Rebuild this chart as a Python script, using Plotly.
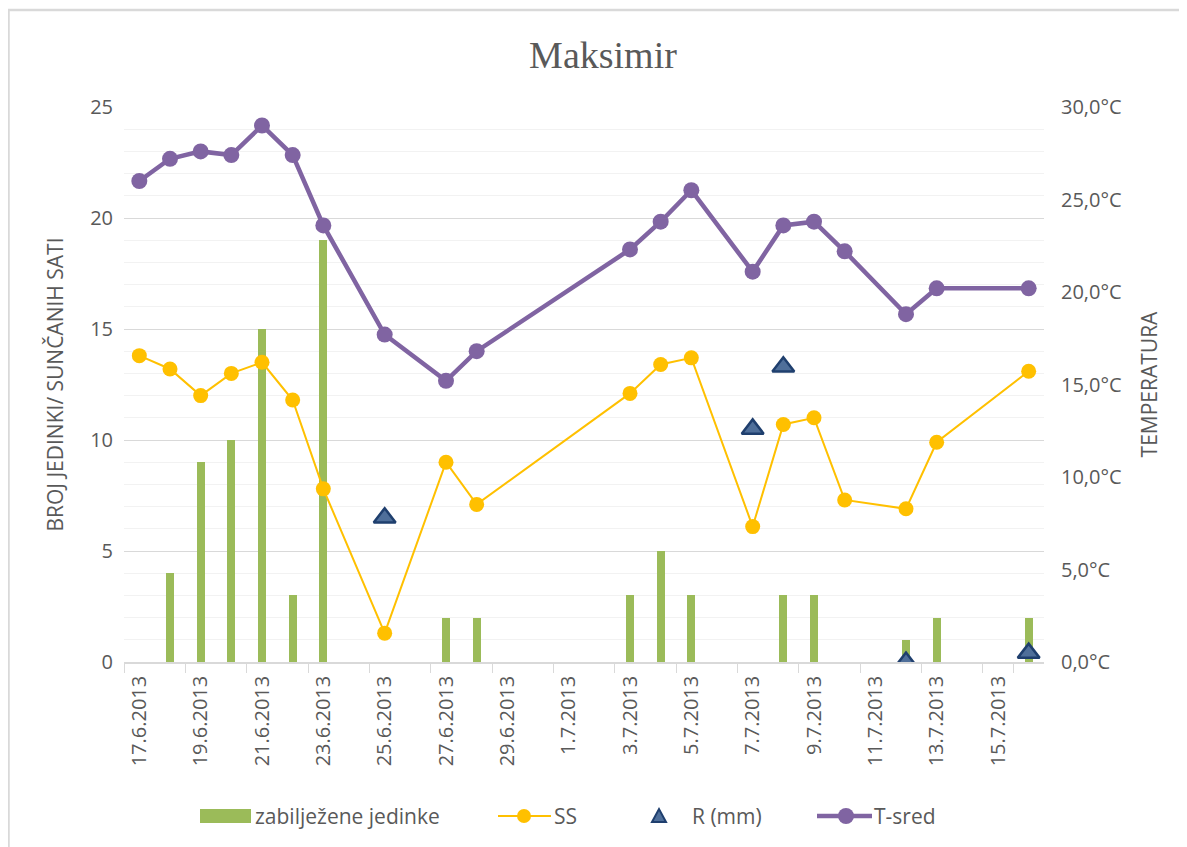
import plotly.graph_objects as go

dates = ["17.6.2013", "18.6.2013", "19.6.2013", "20.6.2013", "21.6.2013", "22.6.2013",
         "23.6.2013", "24.6.2013", "25.6.2013", "26.6.2013", "27.6.2013", "28.6.2013",
         "29.6.2013", "30.6.2013", "1.7.2013", "2.7.2013", "3.7.2013", "4.7.2013",
         "5.7.2013", "6.7.2013", "7.7.2013", "8.7.2013", "9.7.2013", "10.7.2013",
         "11.7.2013", "12.7.2013", "13.7.2013", "14.7.2013", "15.7.2013", "16.7.2013"]

jedinke = [None, 4, 9, 10, 15, 3, 19, None, None, None, 2, 2, None, None, None, None,
           3, 5, 3, None, None, 3, 3, None, None, 1, 2, None, None, 2]

ss = [13.8, 13.2, 12.0, 13.0, 13.5, 11.8, 7.8, None, 1.3, None, 9.0, 7.1, None, None,
      None, None, 12.1, 13.4, 13.7, None, 6.1, 10.7, 11.0, 7.3, None, 6.9, 9.9, None,
      None, 13.1]

r_mm = [None, None, None, None, None, None, None, None, 6.5, None, None, None, None, None,
        None, None, None, None, None, None, 10.5, 13.3, None, None, None, 0.0, None, None,
        None, 0.4]

t_sred = [26.0, 27.2, 27.6, 27.4, 29.0, 27.4, 23.6, None, 17.7, None, 15.2, 16.8, None,
          None, None, None, 22.3, 23.8, 25.5, None, 21.1, 23.6, 23.8, 22.2, None, 18.8,
          20.2, None, None, 20.2]

series_names = ["zabilježene jedinke", "SS", "R (mm)", "T-sred"]

left_ticks = [0, 5, 10, 15, 20, 25]
right_ticks = [0, 5, 10, 15, 20, 25, 30]
right_ticktext = ["0,0°C", "5,0°C", "10,0°C", "15,0°C", "20,0°C", "25,0°C", "30,0°C"]
x_ticks = dates[::2]

FONT = "Open Sans"
GREY = "#595959"
C_BAR, C_SS, C_TRI, C_TRI_EDGE, C_T = "#9BBB59", "#FFC000", "#4F6F9A", "#1F3F6E", "#8064A2"

# the page adds an 8px body margin; figure sized to fit the window
W, H = 1179, 839
ML, MR, MT, MB = 116, 143, 99, 185
PW, PH = W - ML - MR, H - MT - MB


def xp(px):
    return (px - 8 - ML) / PW


def yp(py):
    return (MT + PH - (py - 8)) / PH


fig = go.Figure()
fig.add_trace(go.Bar(x=dates, y=jedinke, name=series_names[0],
                     marker=dict(color=C_BAR, line=dict(width=0)), width=0.27,
                     yaxis="y"))
fig.add_trace(go.Scatter(x=dates, y=ss, name=series_names[1], mode="lines+markers",
                         connectgaps=True,
                         line=dict(color=C_SS, width=2),
                         marker=dict(color=C_SS, size=15), yaxis="y"))
fig.add_trace(go.Scatter(x=dates, y=r_mm, name=series_names[2], mode="markers",
                         marker=dict(symbol="triangle-up", size=19, color=C_TRI,
                                     line=dict(color=C_TRI_EDGE, width=2.5)),
                         yaxis="y"))
fig.add_trace(go.Scatter(x=dates, y=t_sred, name=series_names[3], mode="lines+markers",
                         connectgaps=True,
                         line=dict(color=C_T, width=4.5),
                         marker=dict(color=C_T, size=16), yaxis="y2"))

# custom legend (symbols as shapes, labels as annotations)
LY = 816
shapes = [
    dict(type="rect", xref="paper", yref="paper",
         x0=(0.5 - ML) / PW, x1=(W + 100 - ML) / PW,
         y0=-(H + 100 - MT - PH) / PH, y1=(MT + PH - 2) / PH,
         line=dict(color="#D9D9D9", width=2.5), layer="below"),
    dict(type="rect", xref="paper", yref="paper", x0=xp(200), x1=xp(251),
         y0=yp(823), y1=yp(809), fillcolor=C_BAR, line=dict(width=0)),
    dict(type="line", xref="paper", yref="paper", x0=xp(498), x1=xp(551),
         y0=yp(LY), y1=yp(LY), line=dict(color=C_SS, width=2)),
    dict(type="circle", xref="paper", yref="paper", x0=xp(517), x1=xp(531),
         y0=yp(LY + 7), y1=yp(LY - 7), fillcolor=C_SS, line=dict(width=0)),
    dict(type="path", xref="paper", yref="paper",
         path=f"M {xp(652)},{yp(822)} L {xp(666)},{yp(822)} L {xp(659)},{yp(809)} Z",
         fillcolor=C_TRI, line=dict(color=C_TRI_EDGE, width=2)),
    dict(type="line", xref="paper", yref="paper", x0=xp(817), x1=xp(872),
         y0=yp(LY), y1=yp(LY), line=dict(color=C_T, width=4.5)),
    dict(type="circle", xref="paper", yref="paper", x0=xp(838), x1=xp(854),
         y0=yp(LY + 8), y1=yp(LY - 8), fillcolor=C_T, line=dict(width=0)),
]
legend_text_x = [253, 552, 690, 872]
annotations = [
    dict(text=name, xref="paper", yref="paper", x=xp(tx), y=yp(LY), xanchor="left",
         yanchor="middle", showarrow=False,
         font=dict(family=FONT, size=21, color=GREY))
    for name, tx in zip(series_names, legend_text_x)
]

fig.update_layout(
    width=W, height=H,
    margin=dict(l=ML, r=MR, t=MT, b=MB),
    paper_bgcolor="white", plot_bgcolor="white",
    font=dict(family=FONT, color=GREY, size=18),
    title=dict(text="Maksimir", x=(603 - 8) / W, xref="container", xanchor="center",
               y=1 - 47 / H, yanchor="middle",
               font=dict(family="Liberation Serif", size=38, color=GREY)),
    showlegend=False,
    bargap=0,
    xaxis=dict(type="category", categoryorder="array", categoryarray=dates,
               tickvals=x_ticks, ticktext=x_ticks, tickangle=-90, tickson="boundaries",
               ticks="outside", ticklen=9, tickcolor="#D9D9D9", ticklabelstandoff=4,
               showline=True, linecolor="#D9D9D9", linewidth=1.5, showgrid=False,
               tickfont=dict(family=FONT, size=20, color=GREY),
               range=[-0.5, len(dates) - 0.5]),
    yaxis=dict(range=[0, 25], tickvals=left_ticks, showgrid=True, gridcolor="#D9D9D9",
               gridwidth=1.2, zeroline=False, ticks="", ticklabelstandoff=10,
               minor=dict(dtick=1, showgrid=True, gridcolor="#F2F2F2", gridwidth=1),
               tickfont=dict(family=FONT, size=20, color=GREY),
               title=dict(text="BROJ JEDINKI/ SUNČANIH SATI", standoff=20,
                          font=dict(family=FONT, size=21, color=GREY))),
    yaxis2=dict(range=[0, 30], overlaying="y", side="right", tickvals=right_ticks,
                ticktext=right_ticktext, showgrid=False, zeroline=False,
                ticks="", ticklabelstandoff=16,
                tickfont=dict(family=FONT, size=20, color=GREY),
                title=dict(text="TEMPERATURA", standoff=21,
                           font=dict(family=FONT, size=21, color=GREY))),
    shapes=shapes,
    annotations=annotations,
)

fig.write_html("out.html")
